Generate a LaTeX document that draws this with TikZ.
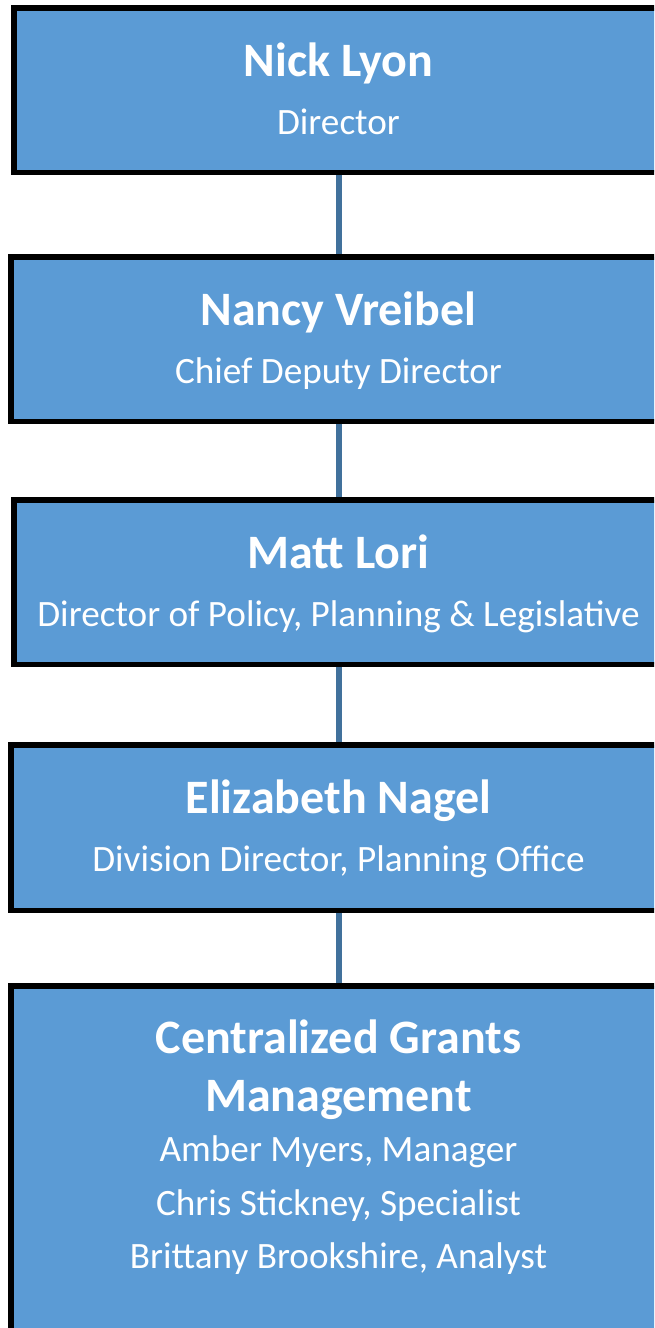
\documentclass[tikz,border=0pt]{standalone}
\usepackage{fontspec}
\setmainfont{Carlito}
\definecolor{boxfill}{HTML}{5B9BD5}
\definecolor{linkcol}{HTML}{41719C}
\begin{document}
\begin{tikzpicture}[x=1pt,y=-1pt,
  orgbox/.style={draw=black,line width=5.5pt,fill=boxfill,rectangle,inner sep=0pt,anchor=north west},
  namelbl/.style={anchor=base,text=white,font=\fontsize{48}{56}\selectfont\bfseries,inner sep=0pt},
  rolelbl/.style={anchor=base,text=white,font=\fontsize{37.2}{44}\selectfont,inner sep=0pt},
  link/.style={draw=linkcol,line width=6pt}]
\useasboundingbox (0,0) rectangle (654,1328);
\clip (0,0) rectangle (654,1328);
% boxes
\node[orgbox,minimum width=650pt,minimum height=164.5pt] (b1) at (11,5) {};
\node[orgbox,minimum width=656pt,minimum height=164.5pt] (b2) at (8,254) {};
\node[orgbox,minimum width=650pt,minimum height=164.5pt] (b3) at (11,497) {};
\node[orgbox,minimum width=656pt,minimum height=165.5pt] (b4) at (8,742) {};
\node[orgbox,minimum width=656pt,minimum height=400pt] (b5) at (8,983) {};
% connectors
\draw[link] (b1.south) -- (b2.north);
\draw[link] (b2.south) -- (b3.north);
\draw[link] (b3.south) -- (b4.north);
\draw[link] (b4.south) -- (b5.north);
% texts
\node[namelbl] (n1) at (338.5,76) {Nick Lyon};
\node[rolelbl] (r1) at (338.5,134) {Director};
\node[namelbl] (n2) at (338.5,325) {Nancy Vreibel};
\node[rolelbl] (r2) at (338.5,383) {Chief Deputy Director};
\node[namelbl] (n3) at (338.5,568) {Matt Lori};
\node[rolelbl] (r3) at (338.5,626) {Director of Policy, Planning \& Legislative};
\node[namelbl] (n4) at (338.5,813) {Elizabeth Nagel};
\node[rolelbl] (r4) at (338.5,871) {Division Director, Planning Office};
\node[namelbl] (n5a) at (338.5,1053) {Centralized Grants};
\node[namelbl] (n5b) at (338.5,1111) {Management};
\node[rolelbl] (r5a) at (338.5,1161) {Amber Myers, Manager};
\node[rolelbl] (r5b) at (338.5,1215) {Chris Stickney, Specialist};
\node[rolelbl] (r5c) at (338.5,1268) {Brittany Brookshire, Analyst};
\end{tikzpicture}
\end{document}
